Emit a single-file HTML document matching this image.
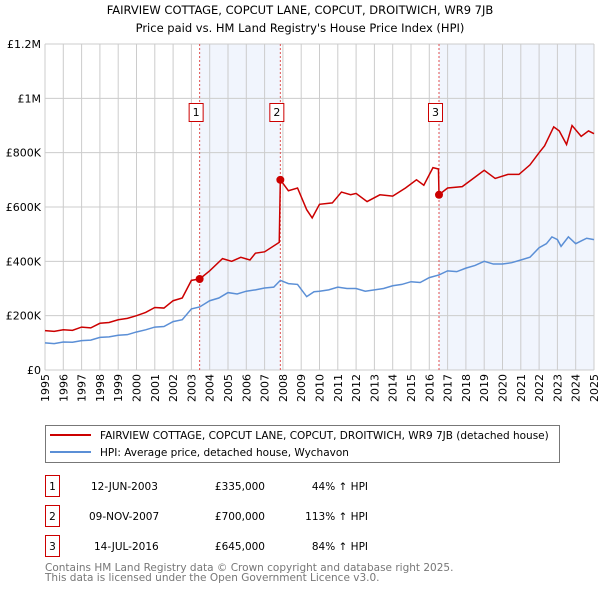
<!DOCTYPE html>
<html><head><meta charset="utf-8"><style>
body{margin:0;width:600px;height:590px;background:#fff;font-family:"DejaVu Sans","Liberation Sans",sans-serif;overflow:hidden;position:relative}
svg text{font-family:"DejaVu Sans","Liberation Sans",sans-serif}
</style></head><body>
<svg width="600" height="590" style="position:absolute;left:0;top:0">
<g id="bands"></g><g id="grid"></g><g id="axes"></g><g id="vlines"></g><g id="series"></g><g id="markers"></g>
<text x="300" y="14" text-anchor="middle" font-size="11.5">FAIRVIEW COTTAGE, COPCUT LANE, COPCUT, DROITWICH, WR9 7JB</text>
<text x="300" y="32" text-anchor="middle" font-size="11.5">Price paid vs. HM Land Registry's House Price Index (HPI)</text>
<rect x="45.5" y="425.5" width="514" height="37" fill="#fff" stroke="#777"/>
<line x1="50" y1="435" x2="91" y2="435" stroke="#cc0000" stroke-width="2"/>
<text x="100" y="439" font-size="10.5">FAIRVIEW COTTAGE, COPCUT LANE, COPCUT, DROITWICH, WR9 7JB (detached house)</text>
<line x1="50" y1="452" x2="91" y2="452" stroke="#5b8fd6" stroke-width="2"/>
<text x="100" y="456" font-size="10.5">HPI: Average price, detached house, Wychavon</text>
<g font-size="10.5">
<rect x="45.5" y="475.5" width="14" height="21" fill="#fff" stroke="#cc0000"/><text x="52.5" y="490" text-anchor="middle">1</text>
<text x="91" y="490">12-JUN-2003</text><text x="265" y="490" text-anchor="end">£335,000</text><text x="368" y="490" text-anchor="end">44% ↑ HPI</text>
<rect x="45.5" y="505.5" width="14" height="21" fill="#fff" stroke="#cc0000"/><text x="52.5" y="520" text-anchor="middle">2</text>
<text x="89" y="520">09-NOV-2007</text><text x="265" y="520" text-anchor="end">£700,000</text><text x="368" y="520" text-anchor="end">113% ↑ HPI</text>
<rect x="45.5" y="535.5" width="14" height="21" fill="#fff" stroke="#cc0000"/><text x="52.5" y="550" text-anchor="middle">3</text>
<text x="94" y="550">14-JUL-2016</text><text x="265" y="550" text-anchor="end">£645,000</text><text x="368" y="550" text-anchor="end">84% ↑ HPI</text>
</g>
<text x="45" y="571" font-size="10.5" fill="#777">Contains HM Land Registry data © Crown copyright and database right 2025.</text>
<text x="45" y="581" font-size="10.5" fill="#777">This data is licensed under the Open Government Licence v3.0.</text>
</svg>
<script>
const yTicks=[0,200000,400000,600000,800000,1000000,1200000];
const yTickLabels=["£0","£200K","£400K","£600K","£800K","£1M","£1.2M"];
const xYears=[1995,1996,1997,1998,1999,2000,2001,2002,2003,2004,2005,2006,2007,2008,2009,2010,2011,2012,2013,2014,2015,2016,2017,2018,2019,2020,2021,2022,2023,2024,2025];
const saleDates=[2003.45,2007.86,2016.53];
const salePrices=[335000,700000,645000];
const saleLabels=["1","2","3"];
const hpiT=[1995,1995.5,1996,1996.5,1997,1997.5,1998,1998.5,1999,1999.5,2000,2000.5,2001,2001.5,2002,2002.5,2003,2003.45,2004,2004.5,2005,2005.5,2006,2006.5,2007,2007.5,2007.86,2008.3,2008.8,2009.3,2009.7,2010,2010.5,2011,2011.5,2012,2012.5,2013,2013.5,2014,2014.5,2015,2015.5,2016,2016.53,2017,2017.5,2018,2018.5,2019,2019.5,2020,2020.5,2021,2021.5,2022,2022.4,2022.7,2023,2023.2,2023.6,2024,2024.3,2024.6,2025];
const hpiV=[100,97,103,102,108,110,120,122,128,130,140,148,158,160,178,185,225,232,255,265,285,280,290,295,302,305,330,318,315,270,288,290,295,305,300,300,290,295,300,310,315,325,322,340,350,365,362,375,385,400,390,390,395,405,415,450,465,490,480,455,490,465,475,485,480];
const redT=[1995,1995.5,1996,1996.5,1997,1997.5,1998,1998.5,1999,1999.5,2000,2000.5,2001,2001.5,2002,2002.5,2003,2003.45,2004,2004.7,2005.2,2005.7,2006.2,2006.5,2007,2007.8,2007.86,2008.3,2008.8,2009.3,2009.6,2010,2010.7,2011.2,2011.7,2012,2012.6,2013.3,2014,2014.7,2015.3,2015.7,2016.2,2016.5,2016.53,2017,2017.8,2018.5,2019,2019.6,2020.3,2020.9,2021.5,2022,2022.3,2022.8,2023.1,2023.5,2023.8,2024.3,2024.7,2025];
const redV=[145,142,148,146,158,155,172,175,185,190,200,212,230,228,255,265,330,335,365,410,400,415,405,430,435,470,700,660,670,590,560,610,615,655,645,650,620,645,640,670,700,680,745,740,645,670,675,710,735,705,720,720,755,800,825,895,880,830,900,860,880,870];
const L=45,R=594,T=44,B=370;
const xs=y=>L+(y-1995)/30*(R-L), ys=v=>B-v/1200000*(B-T);
const NS="http://www.w3.org/2000/svg";
function mk(p,tag,a){const e=document.createElementNS(NS,tag);for(const k in a)e.setAttribute(k,a[k]);document.getElementById(p).appendChild(e);return e;}
let e;
e=mk("bands","rect",{x:xs(saleDates[0]),y:T,width:xs(saleDates[1])-xs(saleDates[0]),height:B-T,fill:"#eef3fc",opacity:0.8});


e=mk("bands","rect",{x:xs(saleDates[2]),y:T,width:xs(2025)-xs(saleDates[2]),height:B-T,fill:"#eef3fc",opacity:0.8});


yTicks.forEach((v,i)=>{
 e=mk("grid","line",{x1:L,x2:R,y1:ys(v),y2:ys(v),stroke:"#ccc"});
 
 
 e=mk("axes","text",{x:L-4,y:ys(v)+4,"text-anchor":"end","font-size":"11"});
 e.textContent=yTickLabels[i];
 
 
});
xYears.forEach(yr=>{
 e=mk("grid","line",{x1:xs(yr),x2:xs(yr),y1:T,y2:B,stroke:"#ccc"});
 
 
 const x=xs(yr)+4, y=B+4;
 e=mk("axes","text",{x:x,y:y,"text-anchor":"end","font-size":"11",transform:"rotate(-90 "+x+" "+y+")"});
 e.textContent=yr;
 
 
});
saleDates.forEach((d,i)=>{
 e=mk("vlines","line",{x1:xs(d),x2:xs(d),y1:T,y2:B,stroke:"#e05050","stroke-dasharray":"2,2","stroke-width":1});
 
 
 e=mk("vlines","rect",{x:xs(d)-10.5,y:103.5,width:14,height:18,fill:"#fff",stroke:"#cc0000"});
 
 
 e=mk("vlines","text",{x:xs(d)-3.5,y:116,"text-anchor":"middle","font-size":"11"});
 e.textContent=saleLabels[i];
 
 
});
e=mk("series","polyline",{points:hpiT.map((t,i)=>xs(t)+","+ys(hpiV[i]*1000)).join(" "),fill:"none",stroke:"#5b8fd6","stroke-width":1.5});


e=mk("series","polyline",{points:redT.map((t,i)=>xs(t)+","+ys(redV[i]*1000)).join(" "),fill:"none",stroke:"#cc0000","stroke-width":1.5});


saleDates.forEach((d,i)=>{
 e=mk("markers","circle",{cx:xs(d),cy:ys(salePrices[i]),r:4,fill:"#cc0000"});
 
 
});
</script>
</body></html>
